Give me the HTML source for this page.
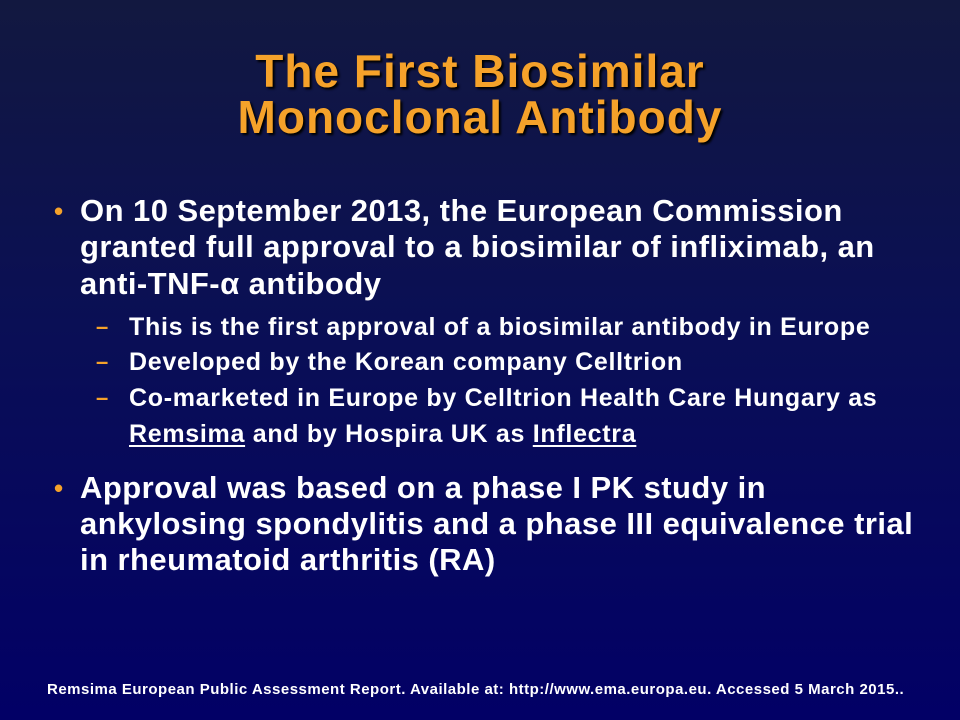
<!DOCTYPE html>
<html><head><meta charset="utf-8"><style>
body{margin:0;width:960px;height:720px;overflow:hidden;font-family:"Liberation Sans",Arial,sans-serif;font-weight:bold}
#slide{position:relative;width:960px;height:720px;background:linear-gradient(180deg,#121840 0%,#0a0f55 45%,#020066 100%)}
.t{position:absolute;white-space:nowrap}
.title{color:#f5a22a;font-size:46px;letter-spacing:1px;left:0;width:960px;text-align:center;text-shadow:2px 2px 2px #000}
.l1{color:#fff;font-size:31px;letter-spacing:0.45px;left:80px}
.l2{color:#fff;font-size:25px;letter-spacing:0.7px;left:129px}
.b1{position:absolute;color:#f5a22a;font-size:26px;left:54px}
.b2{position:absolute;color:#f5a22a;font-size:22px;left:96px}
u{text-decoration-thickness:2px;text-underline-offset:3px}
</style></head><body>
<div id="slide">
<div class="t title" style="top:44px">The First Biosimilar</div>
<div class="t title" style="top:90px">Monoclonal Antibody</div>

<div class="b1" style="top:196px">•</div>
<div class="t l1" style="top:193px">On 10 September 2013, the European Commission</div>
<div class="t l1" style="top:229px">granted full approval to a biosimilar of infliximab, an</div>
<div class="t l1" style="top:266px">anti-TNF-α antibody</div>

<div class="b2" style="top:314px">–</div>
<div class="t l2" style="top:313px">This is the first approval of a biosimilar antibody in Europe</div>
<div class="b2" style="top:349px">–</div>
<div class="t l2" style="top:348px">Developed by the Korean company Celltrion</div>
<div class="b2" style="top:385px">–</div>
<div class="t l2" style="top:384px">Co-marketed in Europe by Celltrion Health Care Hungary as</div>
<div class="t l2" style="top:420px"><u>Remsima</u> and by Hospira UK as <u>Inflectra</u></div>

<div class="b1" style="top:473px">•</div>
<div class="t l1" style="top:470px">Approval was based on a phase I PK study in</div>
<div class="t l1" style="top:506px">ankylosing spondylitis and a phase III equivalence trial</div>
<div class="t l1" style="top:542px">in rheumatoid arthritis (RA)</div>

<div class="t" style="top:681px;left:47px;color:#fff;font-size:15px;letter-spacing:0.5px">Remsima European Public Assessment Report. Available at: http://www.ema.europa.eu. Accessed 5 March 2015..</div>
</div>
</body></html>
